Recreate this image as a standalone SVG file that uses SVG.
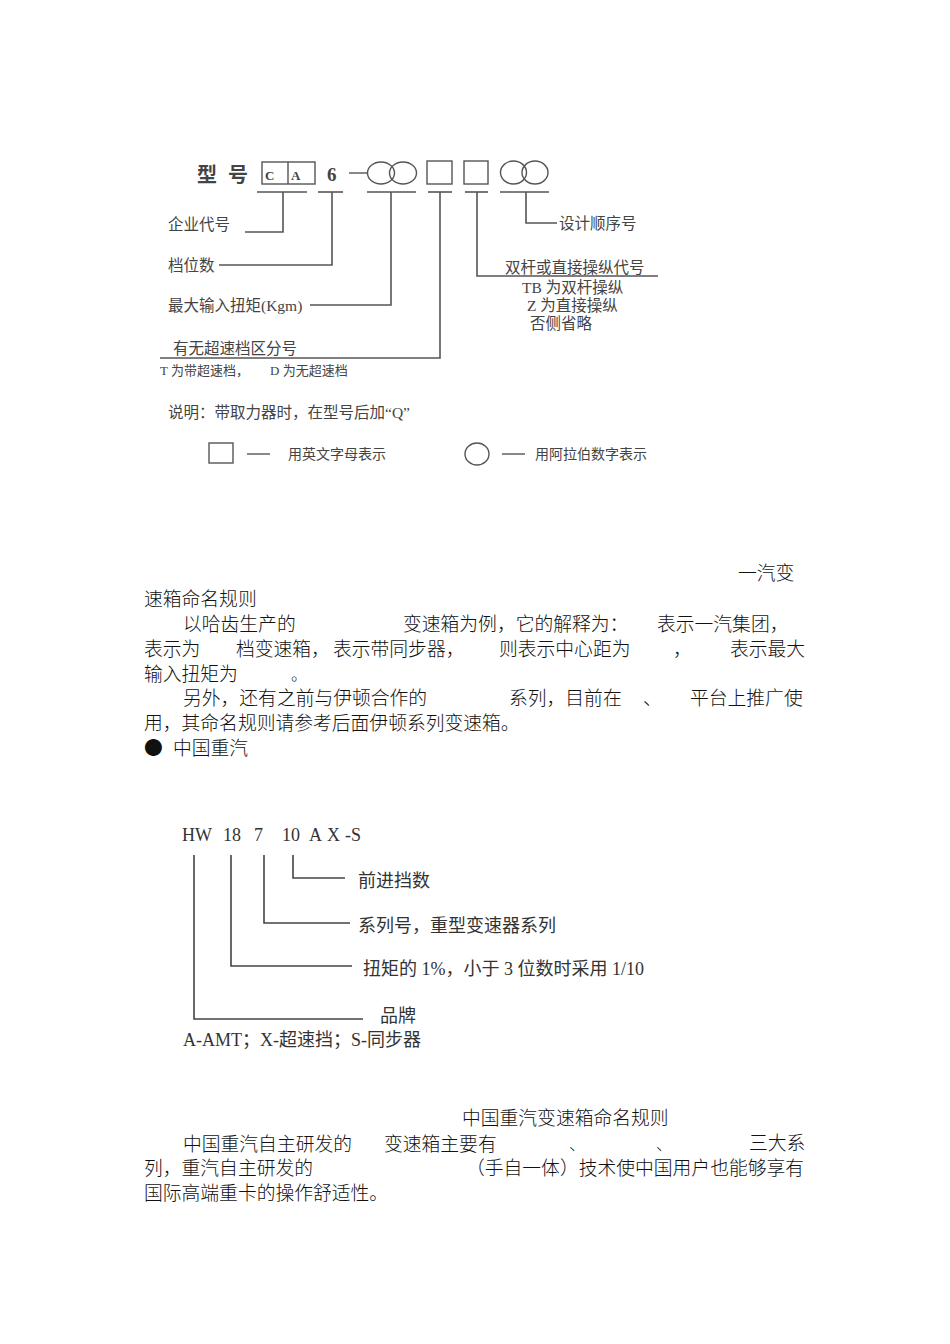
<svg xmlns="http://www.w3.org/2000/svg" width="950" height="1344" viewBox="0 0 950 1344">
<style>
.bg{fill:#ffffff}
.ln{stroke:#555;stroke-width:1.6;fill:none}
.ln2{stroke:#444;stroke-width:1.6;fill:none}
.sh{stroke:#555;stroke-width:1.4;fill:none}
.dg{font-family:"Liberation Serif","Noto Sans CJK SC",serif;fill:#444}
.d16{font-size:15.5px}
.d13{font-size:13px}
.d14{font-size:14px}
.hw{font-family:"Liberation Serif","Noto Sans CJK SC",serif;fill:#333;font-size:18px}
.bt{font-family:"Liberation Serif","Noto Sans CJK SC",serif;fill:#333;font-size:18px}
.p{font-family:"Noto Sans CJK SC",sans-serif;fill:#111;font-size:18.8px;font-weight:300}
.pp{font-family:"Noto Sans CJK SC",sans-serif;fill:#111;font-size:16px;font-weight:300}
</style>
<rect class="bg" x="0" y="0" width="950" height="1344"/>

<g id="top-diagram">
  <g id="model-code">
    <text x="197" y="182" font-family="Noto Sans CJK SC,sans-serif" font-weight="700" font-size="20" fill="#444">型</text>
    <text x="228" y="182" font-family="Noto Sans CJK SC,sans-serif" font-weight="700" font-size="20" fill="#444">号</text>
    <rect class="sh" x="262" y="162" width="53" height="22"/>
    <line class="sh" x1="288" y1="162" x2="288" y2="184"/>
    <text x="265" y="180" font-family="Liberation Serif,serif" font-weight="700" font-size="13" fill="#444">C</text>
    <text x="291" y="180" font-family="Liberation Serif,serif" font-weight="700" font-size="13" fill="#444">A</text>
    <text x="327" y="181" font-family="Liberation Serif,serif" font-weight="700" font-size="19" fill="#444">6</text>
    <line class="sh" x1="349" y1="173" x2="367" y2="173"/>
    <ellipse class="sh" cx="381" cy="173" rx="13.5" ry="11"/>
    <ellipse class="sh" cx="403" cy="173" rx="13.5" ry="11"/>
    <rect class="sh" x="427" y="161" width="25" height="23"/>
    <rect class="sh" x="464" y="161" width="24" height="23"/>
    <ellipse class="sh" cx="513.5" cy="172.5" rx="13" ry="11.5"/>
    <ellipse class="sh" cx="535" cy="172.5" rx="13" ry="11.5"/>
  </g>
  <g id="underlines">
    <line class="ln" x1="257" y1="192" x2="307" y2="192"/>
    <line class="ln" x1="318" y1="192" x2="343" y2="192"/>
    <line class="ln" x1="367" y1="192" x2="416" y2="192"/>
    <line class="ln" x1="428" y1="192" x2="452" y2="192"/>
    <line class="ln" x1="465" y1="192" x2="488" y2="192"/>
    <line class="ln" x1="500" y1="192" x2="549" y2="192"/>
  </g>
  <g id="connectors-top">
    <polyline class="ln" points="283,192 283,232 245,232"/>
    <polyline class="ln" points="332,192 332,265 219,265"/>
    <polyline class="ln" points="391,192 391,305 310,305"/>
    <polyline class="ln" points="440,192 440,358 160,358"/>
    <polyline class="ln" points="477,192 477,276 658,276"/>
    <polyline class="ln" points="526,192 526,223 557,223"/>
  </g>
  <g id="label-enterprise"><text class="dg d16" x="168" y="230">企业代号</text></g>
  <g id="label-gears"><text class="dg d16" x="168" y="271">档位数</text></g>
  <g id="label-torque"><text class="dg d16" x="168" y="311">最大输入扭矩(Kgm)</text></g>
  <g id="label-overdrive">
    <text class="dg d16" x="173" y="354">有无超速档区分号</text>
    <text class="dg d13" x="160" y="375">T 为带超速档，</text>
    <text class="dg d13" x="270" y="375">D 为无超速档</text>
  </g>
  <g id="label-lever">
    <text class="dg d16" x="505" y="273">双杆或直接操纵代号</text>
    <text class="dg d16" x="522" y="293">TB 为双杆操纵</text>
    <text class="dg d16" x="527" y="311">Z 为直接操纵</text>
    <text class="dg d16" x="530" y="329">否侧省略</text>
  </g>
  <g id="label-design"><text class="dg d16" x="559" y="229">设计顺序号</text></g>
  <g id="note"><text class="dg d16" x="168" y="418">说明：带取力器时，在型号后加“Q”</text></g>
  <g id="legend">
    <rect class="sh" x="209" y="443" width="24" height="20"/>
    <line class="sh" x1="247" y1="454" x2="270" y2="454"/>
    <text class="dg d14" x="288" y="459">用英文字母表示</text>
    <ellipse class="sh" cx="477" cy="454" rx="12" ry="11"/>
    <line class="sh" x1="502" y1="454" x2="525" y2="454"/>
    <text class="dg d14" x="535" y="459">用阿拉伯数字表示</text>
  </g>
</g>

<g id="paragraph-1">
  <text class="p" x="738" y="580">一汽变</text>
  <text class="p" x="144" y="606">速箱命名规则</text>
  <text class="p" y="631"><tspan x="183">以哈齿生产的</tspan><tspan x="403">变速箱为例，它的解释为：</tspan><tspan x="657">表示一汽集团，</tspan></text>
  <text class="p" y="656"><tspan x="144">表示为</tspan><tspan x="236">档变速箱，</tspan><tspan x="333">表示带同步器，</tspan><tspan x="499">则表示中心距为</tspan><tspan x="673">，</tspan><tspan x="730">表示最大</tspan></text>
  <text class="p" x="144" y="681">输入扭矩为</text>
  <text class="pp" x="291" y="680">。</text>
  <text class="p" y="705"><tspan x="183">另外，还有之前与伊顿合作的</tspan><tspan x="509">系列，目前在</tspan><tspan x="643">、</tspan><tspan x="690">平台上推广使</tspan></text>
  <text class="p" x="144" y="730">用，其命名规则请参考后面伊顿系列变速箱。</text>
  <text class="p" y="755"><tspan x="144">●</tspan><tspan x="173">中国重汽</tspan></text>
</g>

<g id="bottom-diagram">
  <g id="hw-code">
    <text class="hw" y="841"><tspan x="182">HW</tspan><tspan x="223">18</tspan><tspan x="254">7</tspan><tspan x="282">10</tspan><tspan x="309">A</tspan><tspan x="327">X</tspan><tspan x="345">-S</tspan></text>
  </g>
  <g id="connectors-bottom">
    <polyline class="ln2" points="293,855 293,878 345,878"/>
    <polyline class="ln2" points="264,855 264,923 350,923"/>
    <polyline class="ln2" points="231,855 231,966 352,966"/>
    <polyline class="ln2" points="194,855 194,1019 363,1019"/>
  </g>
  <g id="label-forward"><text class="bt" x="358" y="887">前进挡数</text></g>
  <g id="label-series"><text class="bt" x="358" y="932">系列号，重型变速器系列</text></g>
  <g id="label-torque2"><text class="bt" x="363" y="975">扭矩的 1%，小于 3 位数时采用 1/10</text></g>
  <g id="label-brand"><text class="bt" x="380" y="1022">品牌</text></g>
  <g id="label-suffix"><text class="bt" x="183" y="1046">A-AMT；X-超速挡；S-同步器</text></g>
</g>

<g id="paragraph-2">
  <text class="p" x="462" y="1125">中国重汽变速箱命名规则</text>
  <text class="p" x="183" y="1151">中国重汽自主研发的</text>
  <text class="p" x="384" y="1151">变速箱主要有</text>
  <text class="pp" x="569" y="1150">、</text>
  <text class="pp" x="656" y="1150">、</text>
  <text class="p" x="749" y="1150">三大系</text>
  <text class="p" x="144" y="1175">列，重汽自主研发的</text>
  <text class="p" x="466" y="1175">（手自一体）技术使中国用户也能够享有</text>
  <text class="p" x="144" y="1200">国际高端重卡的操作舒适性。</text>
</g>
</svg>
